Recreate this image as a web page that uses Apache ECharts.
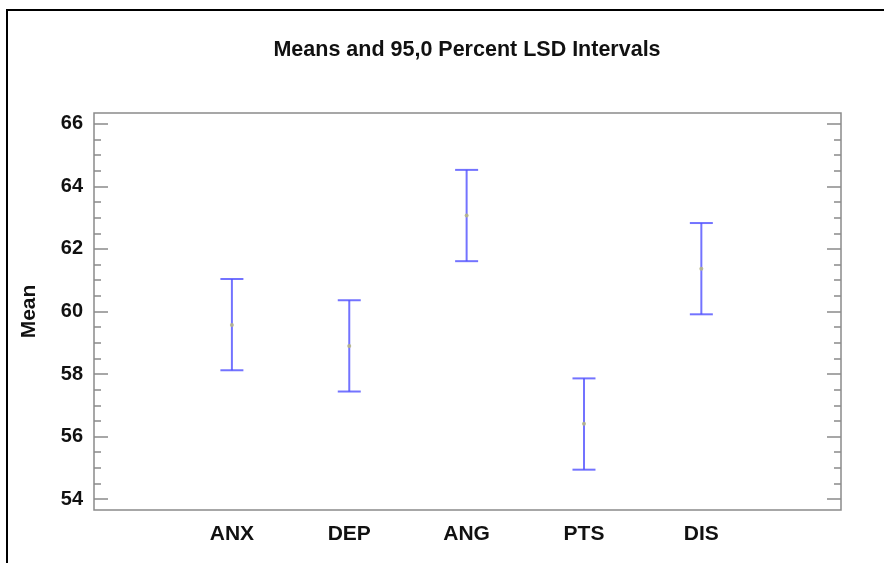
<!DOCTYPE html>
<html>
<head>
<meta charset="utf-8">
<title>Means and 95,0 Percent LSD Intervals</title>
<script src="https://cdn.jsdelivr.net/npm/echarts@6/dist/echarts.min.js"></script>
<style>
  html, body { margin: 0; padding: 0; background: #fff; }
  #chart { width: 889px; height: 563px; }
</style>
</head>
<body>
<div id="chart"></div>
<script>
// groups on the x axis
const categories = ["ANX", "DEP", "ANG", "PTS", "DIS"];
// means and LSD interval ends
const means = [59.57, 58.90, 63.07, 56.41, 61.37];
const lower = [58.12, 57.44, 61.61, 54.94, 59.91];
const upper = [61.04, 60.36, 64.53, 57.86, 62.83];
// y tick labels
const yTicks = [54, 56, 58, 60, 62, 64, 66];
const yMinorTicks = [54, 54.5, 55, 55.5, 56, 56.5, 57, 57.5, 58, 58.5, 59, 59.5,
  60, 60.5, 61, 61.5, 62, 62.5, 63, 63.5, 64, 64.5, 65, 65.5, 66];

const xPos = categories.map((c, i) => i + 1);
const fontFamily = "'Liberation Sans', Arial, sans-serif";
const axisGrey = "#8a8a8a";

const chart = echarts.init(document.getElementById("chart"));

// tick-only y axis (major or minor), left or right
function tickAxis(pos, values, len) {
  return {
    type: "value",
    position: pos,
    offset: 0,
    min: 53.65,
    max: 66.35,
    splitLine: { show: false },
    axisLine: { show: false },
    axisTick: {
      show: true,
      inside: true,
      length: len,
      customValues: values,
      lineStyle: { color: axisGrey, width: 1.5 }
    },
    axisLabel: { show: false }
  };
}

// label + name axis, no ticks
const labelAxis = {
  type: "value",
  position: "left",
  offset: 0,
  min: 53.65,
  max: 66.35,
  name: "Mean",
  nameLocation: "middle",
  nameRotate: 90,
  nameGap: 54,
  nameTextStyle: {
    color: "#111",
    fontSize: 21,
    fontWeight: "bold",
    fontFamily: fontFamily
  },
  splitLine: { show: false },
  axisLine: { show: false },
  axisTick: { show: false },
  axisLabel: {
    customValues: yTicks,
    margin: 11,
    color: "#111",
    fontSize: 20,
    fontWeight: "bold",
    fontFamily: fontFamily
  }
};

const options = {
  backgroundColor: "#fff",
  animation: false,
  title: {
    text: "Means and 95,0 Percent LSD Intervals",
    left: 462,
    top: 34,
    textAlign: "center",
    textStyle: {
      color: "#111",
      fontSize: 21.5,
      fontWeight: "bold",
      fontFamily: fontFamily
    }
  },
  grid: {
    left: 94,
    top: 113,
    right: 48,
    bottom: 53,
    show: true,
    borderColor: axisGrey,
    borderWidth: 1.5,
    backgroundColor: "#fff"
  },
  xAxis: {
    type: "value",
    min: -0.175,
    max: 6.19,
    splitLine: { show: false },
    axisLine: { show: false },
    axisTick: { show: false },
    axisLabel: {
      customValues: xPos,
      margin: 14,
      color: "#111",
      fontSize: 21,
      fontWeight: "bold",
      fontFamily: fontFamily,
      formatter: function (v) {
        return categories[Math.round(v) - 1] || "";
      }
    }
  },
  yAxis: [
    labelAxis,
    tickAxis("left", yTicks, 14),
    tickAxis("left", yMinorTicks, 7),
    tickAxis("right", yTicks, 14),
    tickAxis("right", yMinorTicks, 7)
  ],
  graphic: [
    {
      type: "polyline",
      shape: { points: [[7, 563], [7, 10], [884, 10]] },
      style: { stroke: "#000", lineWidth: 2, fill: null },
      silent: true
    }
  ],
  series: [
    {
      name: "LSD",
      type: "custom",
      data: xPos.map((x, i) => [x, lower[i], upper[i]]),
      renderItem: function (params, api) {
        const lo = api.coord([api.value(0), api.value(1)]);
        const hi = api.coord([api.value(0), api.value(2)]);
        const half = 11.5;
        const style = { stroke: "rgba(80,80,255,0.8)", lineWidth: 2 };
        return {
          type: "group",
          children: [
            { type: "line", shape: { x1: hi[0], y1: hi[1], x2: lo[0], y2: lo[1] }, style: style },
            { type: "line", shape: { x1: hi[0] - half, y1: hi[1], x2: hi[0] + half, y2: hi[1] }, style: style },
            { type: "line", shape: { x1: lo[0] - half, y1: lo[1], x2: lo[0] + half, y2: lo[1] }, style: style }
          ]
        };
      },
      z: 2
    },
    {
      name: "Mean",
      type: "scatter",
      data: xPos.map((x, i) => [x, means[i]]),
      symbol: "circle",
      symbolSize: 4,
      itemStyle: { color: "#b5b58a", opacity: 0.9 },
      z: 3
    }
  ]
};

chart.setOption(options);
</script>
</body>
</html>
